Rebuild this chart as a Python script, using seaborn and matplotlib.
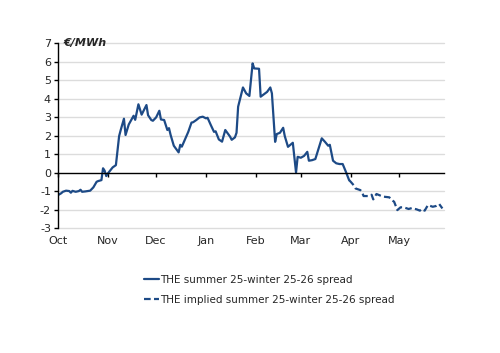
import numpy as np
import pandas as pd
import matplotlib
matplotlib.use("Agg")
from matplotlib import pyplot as plt
import matplotlib.transforms as mtransforms
import seaborn as sns

# THE summer 25 - winter 25-26 spread (actual)
spread_dates = ['2024-10-01', '2024-10-03', '2024-10-04', '2024-10-06', '2024-10-08',
                '2024-10-09', '2024-10-10', '2024-10-12', '2024-10-14', '2024-10-15',
                '2024-10-16', '2024-10-18', '2024-10-21', '2024-10-23', '2024-10-25',
                '2024-10-26', '2024-10-28', '2024-10-29', '2024-10-30', '2024-10-31',
                '2024-11-01', '2024-11-04', '2024-11-06', '2024-11-08', '2024-11-09',
                '2024-11-11', '2024-11-12', '2024-11-14', '2024-11-17', '2024-11-18',
                '2024-11-20', '2024-11-22', '2024-11-25', '2024-11-26', '2024-11-28',
                '2024-11-29', '2024-12-01', '2024-12-03', '2024-12-04', '2024-12-06',
                '2024-12-08', '2024-12-09', '2024-12-10', '2024-12-12', '2024-12-15',
                '2024-12-16', '2024-12-17', '2024-12-21', '2024-12-23', '2024-12-24',
                '2024-12-26', '2024-12-28', '2024-12-30', '2025-01-01', '2025-01-02',
                '2025-01-04', '2025-01-06', '2025-01-07', '2025-01-09', '2025-01-11',
                '2025-01-13', '2025-01-16', '2025-01-17', '2025-01-19', '2025-01-20',
                '2025-01-21', '2025-01-24', '2025-01-26', '2025-01-28', '2025-01-30',
                '2025-01-31', '2025-02-03', '2025-02-04', '2025-02-06', '2025-02-08',
                '2025-02-10', '2025-02-11', '2025-02-13', '2025-02-14', '2025-02-16',
                '2025-02-18', '2025-02-19', '2025-02-21', '2025-02-24', '2025-02-26',
                '2025-02-27', '2025-03-01', '2025-03-03', '2025-03-05', '2025-03-06',
                '2025-03-08', '2025-03-10', '2025-03-14', '2025-03-16', '2025-03-18',
                '2025-03-19', '2025-03-21', '2025-03-23', '2025-03-25', '2025-03-27',
                '2025-03-29', '2025-03-31']
spread_values = [-1.22, -1.12, -1.04, -0.98, -1.00, -1.09, -0.99, -1.04, -1.00, -0.93,
                 -1.04, -1.02, -0.98, -0.80, -0.50, -0.46, -0.41, 0.23, 0.10, -0.19,
                 -0.05, 0.28, 0.40, 1.97, 2.30, 2.91, 2.03, 2.60, 3.07, 2.85,
                 3.69, 3.13, 3.65, 3.10, 2.84, 2.80, 2.98, 3.34, 2.87, 2.84,
                 2.30, 2.40, 2.04, 1.45, 1.09, 1.50, 1.40, 2.20, 2.70, 2.72,
                 2.84, 2.98, 3.02, 2.93, 2.96, 2.57, 2.20, 2.23, 1.79, 1.67,
                 2.30, 1.94, 1.77, 1.90, 2.15, 3.56, 4.60, 4.28, 4.14, 5.90,
                 5.63, 5.61, 4.10, 4.23, 4.36, 4.60, 4.28, 1.66, 2.08, 2.15,
                 2.42, 1.97, 1.39, 1.61, 0.00, 0.85, 0.80, 0.90, 1.12, 0.64,
                 0.67, 0.73, 1.85, 1.66, 1.45, 1.50, 0.64, 0.50, 0.46, 0.46,
                 0.04, -0.41]

# THE implied summer 25 - winter 25-26 spread
implied_dates = ['2025-03-31', '2025-04-01', '2025-04-03', '2025-04-04', '2025-04-07',
                 '2025-04-08', '2025-04-09', '2025-04-12', '2025-04-14', '2025-04-15',
                 '2025-04-17', '2025-04-19', '2025-04-21', '2025-04-25', '2025-04-26',
                 '2025-04-28', '2025-04-30', '2025-05-02', '2025-05-04', '2025-05-07',
                 '2025-05-09', '2025-05-12', '2025-05-14', '2025-05-15', '2025-05-17',
                 '2025-05-19', '2025-05-22', '2025-05-24', '2025-05-26', '2025-05-28']
implied_values = [-0.41, -0.50, -0.70, -0.86, -0.95, -1.05, -1.27, -1.27, -1.20, -1.45,
                  -1.16, -1.23, -1.30, -1.34, -1.45, -1.58, -2.03, -1.88, -1.88, -1.97,
                  -1.92, -1.99, -2.06, -1.97, -2.06, -1.76, -1.85, -1.81, -1.70, -1.94]

month_ticks = pd.date_range('2024-10-01', '2025-05-01', freq='MS')
month_labels = [d.strftime('%b') for d in month_ticks]
y_ticks = list(range(-3, 8))

line_color = '#1d4a86'
grid_color = '#dcdcdc'

sns.set_style("white")
plt.rcParams['font.family'] = ['DejaVu Sans']
plt.rcParams['axes.unicode_minus'] = False

df_spread = pd.DataFrame({'date': pd.to_datetime(spread_dates), 'value': spread_values})
df_implied = pd.DataFrame({'date': pd.to_datetime(implied_dates), 'value': implied_values})

fig = plt.figure(figsize=(5.0, 3.53), dpi=100)
ax = fig.add_axes([0.116, 0.354, 0.772, 0.524])

for y in y_ticks:
    if y != 0:
        ax.axhline(y, color=grid_color, lw=1.0, zorder=0, clip_on=False)

sns.lineplot(data=df_spread, x='date', y='value', ax=ax, color=line_color, lw=1.6,
             label='THE summer 25-winter 25-26 spread')
sns.lineplot(data=df_implied, x='date', y='value', ax=ax, color=line_color, lw=1.6,
             linestyle=(0, (3, 1.5)), label='THE implied summer 25-winter 25-26 spread')

ax.set_ylim(-3, 7)
ax.set_xlim(pd.Timestamp('2024-10-01'), pd.Timestamp('2025-05-29'))
ax.set_yticks(y_ticks)
ax.set_xticks(month_ticks)
ax.set_xticklabels(month_labels)
ax.set_xlabel('')
ax.set_ylabel('')

for s in ['top', 'right']:
    ax.spines[s].set_visible(False)
ax.spines['left'].set_color('black')
ax.spines['left'].set_linewidth(1.0)
ax.spines['bottom'].set_position(('data', 0))
ax.spines['bottom'].set_color('black')
ax.spines['bottom'].set_linewidth(1.0)

ax.tick_params(axis='y', direction='out', length=3, width=1, color='black',
               labelsize=8, pad=2, left=True)
ax.tick_params(axis='x', direction='out', length=3, width=1, color='black',
               labelsize=8, pad=43, bottom=True)

trans = mtransforms.blended_transform_factory(ax.transAxes, ax.transData)
ax.text(0.015, 7, '€/MWh', transform=trans, fontsize=8, fontweight='bold',
        fontstyle='italic', va='center', ha='left')

ax.legend(loc='upper left', bbox_to_anchor=(0.279, 0.234), bbox_transform=fig.transFigure,
          frameon=False, fontsize=7.5, handlelength=1.5, handletextpad=0.1,
          labelspacing=1.0, borderaxespad=0)

plt.savefig('out.png', dpi=100)
